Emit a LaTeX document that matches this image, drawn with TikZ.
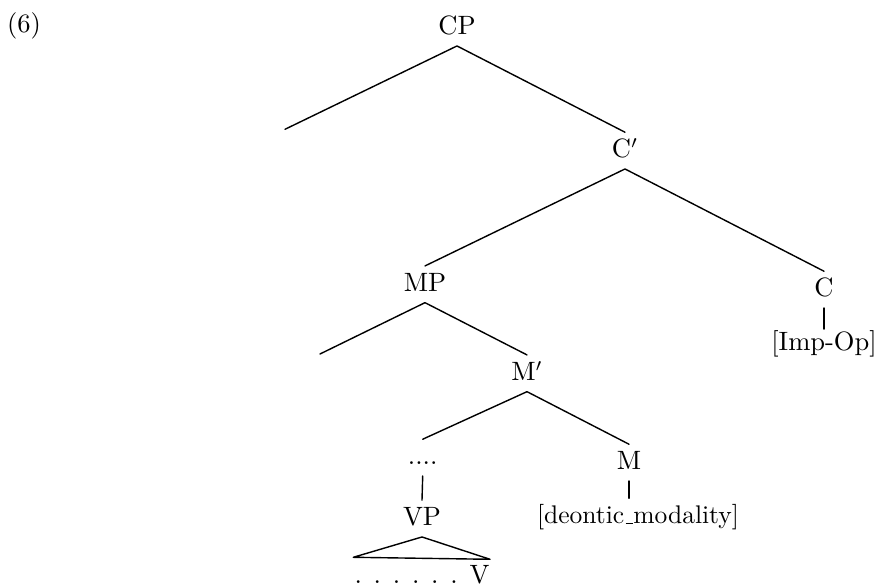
\documentclass[tikz,border=0pt]{standalone}
\newcommand{\usc}{\leavevmode\kern.06em\rule{.3em}{.4pt}}
\begin{document}
\begin{tikzpicture}[x=0.392pt,y=-0.392pt,
  lbl/.style={anchor=base,inner sep=0pt,outer xsep=0pt,outer ysep=3pt,
    text height=7.1pt,text depth=1.3pt,font=\fontsize{10.4}{12}\selectfont},
  branch/.style={line width=0.55pt,line cap=round,line join=round}]
\useasboundingbox (0,0) rectangle (878,588);
% labels
\node[lbl] (ex)   at (24,33)    {(6)};
\node[lbl] (CP)   at (457,35)   {CP};
\node[lbl] (Cbar) at (625,158)  {C$'$};
\node[lbl] (MP)   at (425,291.7){MP};
\node[lbl] (C)    at (824,297)  {C};
\node[lbl,outer ysep=1.5pt] (Imp) at (824,351) {[Imp-Op]};
\node[lbl] (Mbar) at (527,380.7){M$'$};
\node[lbl] (dots) at (422.7,465){....};
\node[lbl] (M)    at (629,470)  {M};
\node[lbl] (VP)   at (422,526)  {VP};
\node[lbl,font=\fontsize{10}{12}\selectfont] (deon) at (638,524) {[deontic\usc modality]};
\node[lbl] (V)    at (422,584)  {. . . . . . V};
% free ends
\coordinate (specC) at (285,129.3);
\coordinate (specM) at (320,354);
\coordinate (triL) at (353.3,557.3);
\coordinate (triR) at (490,559.3);
% branches
\draw[branch] (specC) -- (CP.south) -- (Cbar.north);
\draw[branch] (MP.north) -- (Cbar.south) -- (C.north);
\draw[branch] (specM) -- (MP.south) -- (Mbar.north);
\draw[branch] (dots.north) -- (Mbar.south) -- (M.north);
\draw[branch] (dots.south) -- (VP.north);
\draw[branch] (M.south) -- (M.south |- deon.north);
\draw[branch] (C.south) -- (Imp.north);
\draw[branch] (VP.south) -- (triL) -- (triR) -- cycle;
\end{tikzpicture}
\end{document}
